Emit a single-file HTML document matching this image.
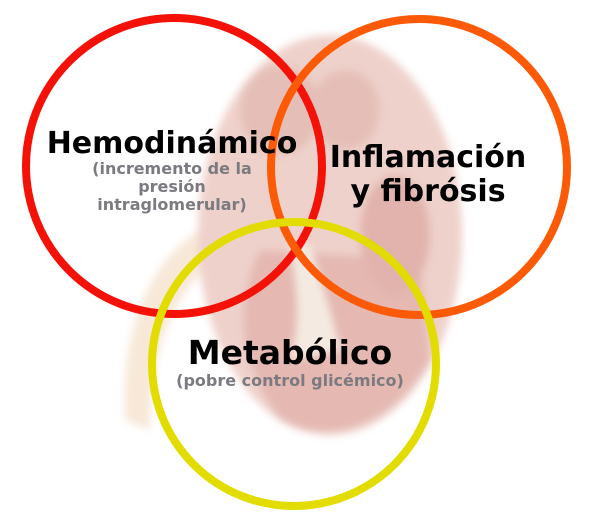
<!DOCTYPE html>
<html><head><meta charset="utf-8"><style>
html,body{margin:0;padding:0;background:#fff;}
body{width:612px;height:517px;overflow:hidden;position:relative;font-family:"DejaVu Sans","Liberation Sans",sans-serif;}
svg{position:absolute;left:0;top:0;}
.t{position:absolute;text-align:center;font-weight:bold;white-space:nowrap;}
</style></head><body>
<svg width="612" height="517" viewBox="0 0 612 517">
<defs><filter id="b"><feGaussianBlur stdDeviation="4"/></filter></defs>
<g filter="url(#b)" opacity="0.8">
<path d="M200 230 C150 260 120 330 125 420 L150 430 C150 340 180 280 230 250 Z" fill="#f6e3cf"/>
<ellipse cx="330" cy="235" rx="132" ry="200" fill="#ebc6be"/>
<path d="M260 250 C240 290 230 350 280 420 C330 450 400 420 430 360 L420 260 Z" fill="#dfa8a0"/>
<ellipse cx="280" cy="110" rx="40" ry="45" fill="#dfb0a6"/>
<ellipse cx="345" cy="110" rx="35" ry="40" fill="#dfb0a6"/>
<ellipse cx="395" cy="235" rx="35" ry="60" fill="#dba198"/>
<path d="M290 245 C300 300 300 330 290 360 L340 350 C330 310 320 280 310 245 Z" fill="#f3e6da"/>
</g>
<circle cx="174" cy="166" r="148" fill="none" stroke="#f41208" stroke-width="8"/>
<circle cx="419" cy="167" r="148" fill="none" stroke="#fc5a06" stroke-width="8"/>
<circle cx="294" cy="364" r="142" fill="none" stroke="#e2dc00" stroke-width="8"/>
</svg>
<div class="t" style="left:22px;width:300px;top:126px;font-size:30px;color:#000;">Hemodinámico</div>
<div class="t" style="left:22px;width:300px;top:160px;font-size:16px;line-height:18px;color:#7a7a80;">(incremento de la<br>presión<br>intraglomerular)</div>
<div class="t" style="left:278px;width:300px;top:141px;font-size:30px;line-height:34px;color:#000;">Inflamación<br>y fibrósis</div>
<div class="t" style="left:140px;width:300px;top:333px;font-size:33px;color:#000;">Metabólico</div>
<div class="t" style="left:140px;width:300px;top:371px;font-size:16px;color:#7a7a80;">(pobre control glicémico)</div>
</body></html>
